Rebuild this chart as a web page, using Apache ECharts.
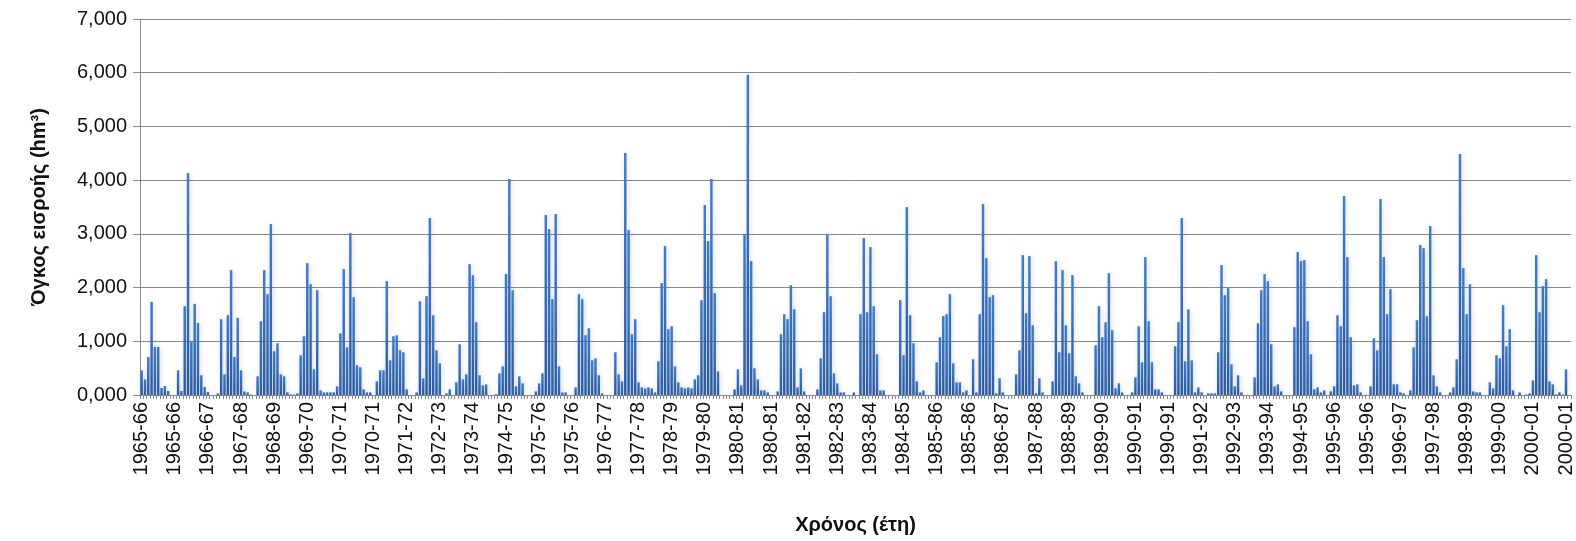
<!DOCTYPE html>
<html>
<head>
<meta charset="utf-8">
<title>Όγκος εισροής</title>
<script src="https://cdn.jsdelivr.net/npm/echarts@6/dist/echarts.min.js"></script>
<style>
  html, body { margin: 0; padding: 0; background: #ffffff; }
  #chart { width: 1576px; height: 541px; }
</style>
</head>
<body>
<div id="chart"></div>
<script>
// Hydrological years (October to September)
const seasons = [
  '1965-66', '1966-67', '1967-68', '1968-69', '1969-70', '1970-71',
  '1971-72', '1972-73', '1973-74', '1974-75', '1975-76', '1976-77',
  '1977-78', '1978-79', '1979-80', '1980-81', '1981-82', '1982-83',
  '1983-84', '1984-85', '1985-86', '1986-87', '1987-88', '1988-89',
  '1989-90', '1990-91', '1991-92', '1992-93', '1993-94', '1994-95',
  '1995-96', '1996-97', '1997-98', '1998-99', '1999-00', '2000-01'
];

const months = ['Οκτ', 'Νοε', 'Δεκ', 'Ιαν', 'Φεβ', 'Μαρ', 'Απρ', 'Μαΐ', 'Ιουν', 'Ιουλ', 'Αυγ', 'Σεπ'];

const yTickLabels = ['0,000', '1,000', '2,000', '3,000', '4,000', '5,000', '6,000', '7,000'];

// Monthly inflow volume (hm³), one row per hydrological year, Oct..Sep
const monthlyInflow = [
  [460, 292, 708, 1734, 895, 895, 130, 168, 75, 0, 0, 460],          // 1965-66
  [75, 1653, 4133, 988, 1697, 1342, 367, 149, 56, 0, 0, 31],         // 1966-67
  [1411, 385, 1485, 2324, 708, 1436, 460, 68, 50, 10, 0, 348],       // 1967-68
  [1373, 2324, 1877, 3182, 814, 963, 385, 348, 50, 12, 10, 31],      // 1968-69
  [740, 1094, 2455, 2063, 479, 1951, 87, 50, 50, 50, 50, 162],       // 1969-70
  [1150, 2343, 889, 3014, 1821, 553, 516, 106, 50, 50, 0, 255],      // 1970-71
  [460, 460, 2119, 646, 1094, 1112, 833, 796, 106, 0, 0, 50],        // 1971-72
  [1746, 311, 1840, 3294, 1485, 833, 590, 0, 31, 106, 0, 236],       // 1972-73
  [945, 292, 385, 2436, 2231, 1355, 367, 180, 199, 0, 0, 15],        // 1973-74
  [404, 534, 2250, 4021, 1951, 162, 348, 218, 0, 0, 0, 68],          // 1974-75
  [218, 404, 3350, 3089, 1784, 3369, 534, 50, 50, 0, 0, 143],        // 1975-76
  [1877, 1784, 1112, 1243, 646, 684, 367, 31, 0, 0, 0, 796],         // 1976-77
  [385, 255, 4506, 3070, 1131, 1411, 236, 143, 124, 143, 124, 50],   // 1977-78
  [628, 2082, 2772, 1224, 1280, 534, 236, 143, 124, 143, 124, 292],  // 1978-79
  [367, 1765, 3536, 2865, 4021, 1896, 441, 0, 0, 0, 0, 106],         // 1979-80
  [479, 180, 2990, 5960, 2492, 497, 292, 87, 87, 50, 0, 0],          // 1980-81
  [68, 1131, 1504, 1411, 2045, 1597, 143, 497, 68, 0, 0, 0],         // 1981-82
  [106, 684, 1541, 2990, 1840, 404, 218, 50, 50, 0, 0, 50],          // 1982-83
  [0, 1504, 2921, 1541, 2753, 1653, 758, 87, 87, 0, 0, 0],           // 1983-84
  [0, 1765, 740, 3499, 1485, 963, 255, 50, 87, 0, 0, 0],             // 1984-85
  [609, 1075, 1467, 1504, 1877, 590, 236, 236, 50, 87, 0, 665],      // 1985-86
  [50, 1504, 3555, 2548, 1821, 1858, 31, 311, 50, 0, 0, 0],          // 1986-87
  [385, 833, 2604, 1523, 2585, 1299, 31, 311, 50, 0, 0, 255],        // 1987-88
  [2492, 796, 2324, 1299, 777, 2231, 348, 218, 50, 0, 0, 0],         // 1988-89
  [926, 1653, 1075, 1355, 2268, 1206, 124, 218, 50, 0, 0, 50],       // 1989-90
  [329, 1280, 609, 2567, 1373, 609, 106, 106, 50, 0, 0, 0],          // 1990-91
  [907, 1355, 3294, 628, 1597, 646, 50, 143, 50, 0, 31, 31],         // 1991-92
  [31, 796, 2418, 1858, 1989, 572, 162, 367, 50, 0, 0, 0],           // 1992-93
  [329, 1336, 1951, 2250, 2119, 945, 162, 199, 68, 0, 0, 0],         // 1993-94
  [1262, 2660, 2492, 2511, 1373, 758, 106, 143, 50, 87, 0, 68],      // 1994-95
  [162, 1485, 1280, 3704, 2567, 1075, 180, 199, 50, 0, 0, 162],      // 1995-96
  [1057, 833, 3648, 2567, 1504, 1970, 199, 199, 50, 31, 0, 87],      // 1996-97
  [889, 1392, 2791, 2735, 1467, 3145, 367, 162, 50, 0, 0, 50],       // 1997-98
  [143, 665, 4487, 2361, 1504, 2063, 68, 50, 50, 0, 0, 236],         // 1998-99
  [124, 740, 684, 1672, 907, 1224, 87, 0, 50, 0, 10, 31],            // 1999-00
  [273, 2604, 1541, 2026, 2157, 255, 199, 12, 50, 12, 479, 0]        // 2000-01
];

// Flatten into one monthly category axis
const categories = [];
const values = [];
seasons.forEach((season, k) => {
  monthlyInflow[k].forEach((v, m) => {
    categories.push(season + ' ' + months[m]);
    values.push(v);
  });
});

const FONT = '"Liberation Sans", Arial, sans-serif';
const chart = echarts.init(document.getElementById('chart'), null, { renderer: 'canvas' });

chart.setOption({
  animation: false,
  backgroundColor: '#ffffff',
  grid: { left: 140, right: 1, top: 19, bottom: 146, containLabel: false },
  xAxis: {
    type: 'category',
    data: categories,
    boundaryGap: true,
    name: 'Χρόνος (έτη)',
    nameLocation: 'middle',
    nameGap: 120,
    nameTextStyle: { fontFamily: FONT, fontSize: 20, fontWeight: 'bold', color: '#111111' },
    axisLine: { show: true, lineStyle: { color: '#8a8a8a', width: 1 } },
    axisTick: { show: true, interval: 0, length: 4, lineStyle: { color: '#8a8a8a' } },
    axisLabel: {
      interval: 9,
      rotate: 90,
      margin: 7,
      fontFamily: FONT,
      fontSize: 20,
      color: '#111111',
      formatter: (v) => v.split(' ')[0]
    },
    splitLine: { show: false }
  },
  yAxis: {
    type: 'value',
    min: 0,
    max: 7000,
    interval: 1000,
    name: 'Όγκος εισροής (hm³)',
    nameLocation: 'middle',
    nameGap: 91,
    nameTextStyle: { fontFamily: FONT, fontSize: 20, fontWeight: 'bold', color: '#111111' },
    axisLine: { show: true, lineStyle: { color: '#8a8a8a', width: 1 } },
    axisTick: { show: true, length: 7, lineStyle: { color: '#8a8a8a' } },
    axisLabel: {
      margin: 13,
      fontFamily: FONT,
      fontSize: 20,
      color: '#111111',
      formatter: (v) => yTickLabels[Math.round(v / 1000)]
    },
    splitLine: { show: true, lineStyle: { color: '#8a8a8a', width: 1 } }
  },
  series: [{
    type: 'bar',
    data: values,
    barWidth: '74%',
    itemStyle: {
      color: new echarts.graphic.LinearGradient(0, 0, 0, 1, [
        { offset: 0, color: '#3d7dd1' },
        { offset: 1, color: '#2b5da8' }
      ]),
      shadowColor: 'rgba(0, 0, 0, 0.16)',
      shadowBlur: 5,
      shadowOffsetX: 1
    }
  }]
});
</script>
</body>
</html>
